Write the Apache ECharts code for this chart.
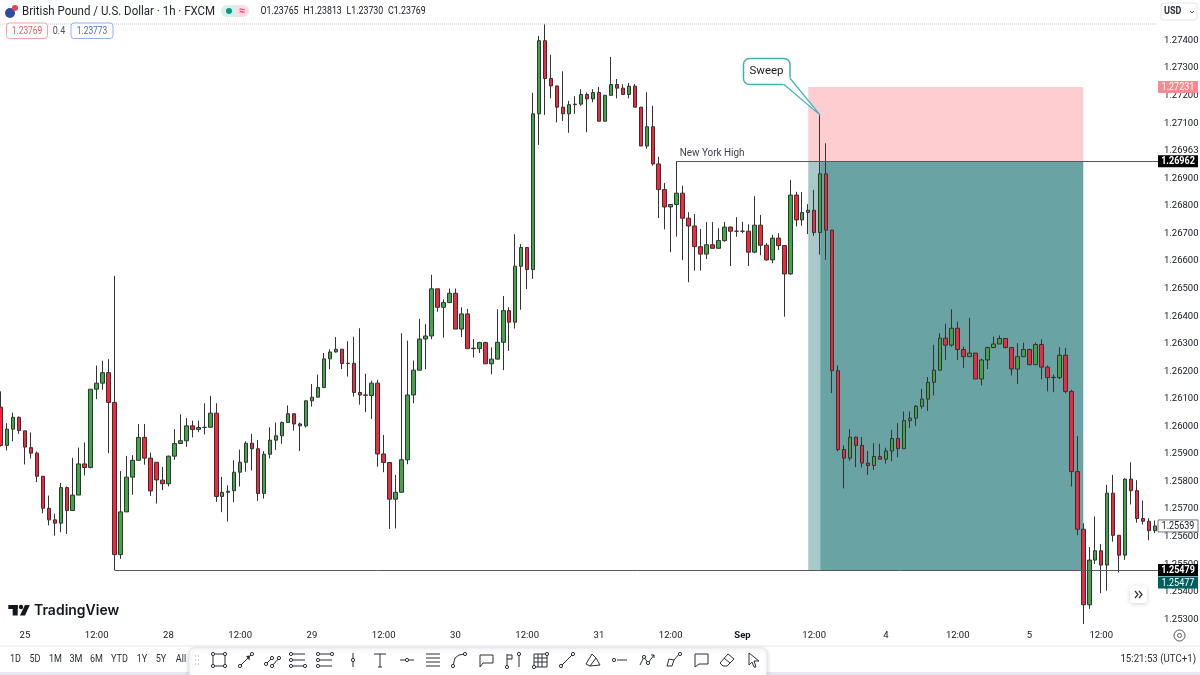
<!DOCTYPE html>
<html>
<head>
<meta charset="utf-8">
<style>html,body{margin:0;padding:0;background:#fff}#c{width:1200px;height:675px}</style>
<script src="https://cdn.jsdelivr.net/npm/echarts@6/dist/echarts.min.js"></script>
</head>
<body>
<div id="c"></div>
<script>
// ---------- data (GBP/USD, 1h bars) ----------
const opens = [1.26070,1.25931,1.25990,1.26033,1.25984,1.25923,1.25903,1.25819,1.25703,1.25661,
1.25649,1.25778,1.25695,1.25751,1.25864,1.25851,1.26135,1.26157,1.26195,1.26087,
1.25535,1.25690,1.25816,1.25877,1.25960,1.25885,1.25870,1.25805,1.25792,1.25892,
1.25938,1.25948,1.26002,1.25989,1.25996,1.25997,1.26048,1.25746,1.25761,1.25767,
1.25834,1.25870,1.25939,1.25919,1.25757,1.25899,1.25950,1.25966,1.26014,1.26046,
1.26009,1.26002,1.26093,1.26106,1.26141,1.26245,1.26270,1.26280,1.26228,1.26229,
1.26123,1.26114,1.26112,1.26157,1.25900,1.25869,1.25736,1.25761,1.25879,1.26114,
1.26204,1.26317,1.26328,1.26499,1.26432,1.26449,1.26483,1.26353,1.26408,1.26282,
1.26282,1.26304,1.26227,1.26244,1.26305,1.26420,1.26378,1.26581,1.26649,1.26569,
1.27134,1.27399,1.27262,1.27235,1.27158,1.27134,1.27167,1.27169,1.27204,1.27188,
1.27211,1.27107,1.27201,1.27240,1.27227,1.27204,1.27234,1.27158,1.27017,1.27087,
1.26952,1.26859,1.26796,1.26805,1.26846,1.26755,1.26727,1.26652,1.26625,1.26659,
1.26646,1.26674,1.26723,1.26708,1.26708,1.26708,1.26632,1.26730,1.26657,1.26604,
1.26683,1.26656,1.26553,1.26839,1.26749,1.26776,1.26784,1.26703,1.26916,1.26712,
1.26202,1.25916,1.25885,1.25961,1.25931,1.25867,1.25858,1.25891,1.25881,1.25911,
1.25956,1.25919,1.26021,1.26030,1.26073,1.26099,1.26160,1.26204,1.26320,1.26295,
1.26356,1.26279,1.26253,1.26266,1.26172,1.26241,1.26286,1.26299,1.26319,1.26286,
1.26208,1.26253,1.26279,1.26224,1.26297,1.26215,1.26177,1.26177,1.26258,1.26127,
1.25836,1.25627,1.25353,1.25515,1.25549,1.25497,1.25758,1.25605,1.25533,1.25809,
1.25767,1.25666,1.25656,1.25622];
const highs = [1.26127,1.26012,1.26050,1.26036,1.25984,1.25978,1.25909,1.25819,1.25749,1.25683,
1.25795,1.25782,1.25886,1.25923,1.25942,1.26135,1.26221,1.26238,1.26244,1.26546,
1.25838,1.25893,1.25896,1.26009,1.26009,1.25905,1.25870,1.25853,1.25894,1.25990,
1.26044,1.26030,1.26021,1.26021,1.26084,1.26110,1.26084,1.25817,1.25786,1.25877,
1.25916,1.25946,1.25973,1.25951,1.25910,1.25997,1.26014,1.26018,1.26076,1.26046,
1.26014,1.26093,1.26154,1.26188,1.26266,1.26280,1.26324,1.26280,1.26309,1.26325,
1.26356,1.26191,1.26166,1.26169,1.25969,1.25869,1.25824,1.26338,1.26311,1.26239,
1.26390,1.26371,1.26550,1.26499,1.26461,1.26500,1.26500,1.26432,1.26426,1.26317,
1.26307,1.26307,1.26287,1.26425,1.26473,1.26432,1.26697,1.26661,1.26649,1.27210,
1.27416,1.27460,1.27348,1.27235,1.27288,1.27181,1.27198,1.27223,1.27211,1.27223,
1.27231,1.27201,1.27340,1.27260,1.27241,1.27246,1.27242,1.27158,1.27212,1.27163,
1.26978,1.26883,1.26805,1.26962,1.26873,1.26777,1.26770,1.26716,1.26741,1.26741,
1.26719,1.26742,1.26725,1.26759,1.26742,1.26733,1.26835,1.26767,1.26665,1.26695,
1.26701,1.26656,1.26894,1.26851,1.26850,1.26806,1.26858,1.27129,1.27027,1.26712,
1.26221,1.25931,1.25990,1.25963,1.25961,1.25911,1.25939,1.25937,1.25923,1.25987,
1.26012,1.26054,1.26054,1.26078,1.26136,1.26179,1.26296,1.26338,1.26372,1.26425,
1.26380,1.26289,1.26393,1.26266,1.26245,1.26289,1.26326,1.26330,1.26319,1.26286,
1.26302,1.26304,1.26282,1.26304,1.26316,1.26221,1.26188,1.26287,1.26285,1.26133,
1.25966,1.25649,1.25562,1.25673,1.25573,1.25788,1.25824,1.25605,1.25812,1.25870,
1.25805,1.25731,1.25667,1.25659];
const lows = [1.25927,1.25913,1.25946,1.25973,1.25862,1.25884,1.25798,1.25685,1.25641,1.25604,
1.25616,1.25610,1.25695,1.25751,1.25822,1.25848,1.26099,1.26133,1.25903,1.25479,
1.25520,1.25690,1.25752,1.25875,1.25861,1.25748,1.25720,1.25769,1.25782,1.25879,
1.25938,1.25926,1.25960,1.25979,1.25971,1.25997,1.25726,1.25689,1.25655,1.25725,
1.25782,1.25836,1.25840,1.25730,1.25738,1.25884,1.25915,1.25937,1.26014,1.25985,
1.25911,1.25996,1.26072,1.26106,1.26139,1.26208,1.26268,1.26208,1.26181,1.26108,
1.26079,1.26052,1.26027,1.25854,1.25834,1.25628,1.25630,1.25761,1.25863,1.26084,
1.26204,1.26208,1.26316,1.26416,1.26322,1.26449,1.26353,1.26324,1.26282,1.26250,
1.26266,1.26227,1.26189,1.26244,1.26204,1.26274,1.26355,1.26423,1.26498,1.26535,
1.27021,1.27130,1.27190,1.27103,1.27108,1.27065,1.27134,1.27163,1.27067,1.27176,
1.27107,1.27107,1.27200,1.27190,1.27204,1.27190,1.27158,1.27017,1.27007,1.26946,
1.26756,1.26715,1.26632,1.26688,1.26604,1.26523,1.26565,1.26565,1.26607,1.26646,
1.26646,1.26670,1.26582,1.26688,1.26701,1.26582,1.26628,1.26621,1.26601,1.26592,
1.26640,1.26398,1.26550,1.26725,1.26728,1.26698,1.26691,1.26623,1.26604,1.26121,
1.25909,1.25775,1.25876,1.25852,1.25851,1.25824,1.25842,1.25881,1.25865,1.25874,
1.25888,1.25919,1.25995,1.26002,1.26064,1.26056,1.26112,1.26204,1.26241,1.26289,
1.26241,1.26212,1.26253,1.26172,1.26149,1.26208,1.26284,1.26299,1.26284,1.26185,
1.26154,1.26253,1.26222,1.26222,1.26171,1.26127,1.26124,1.26171,1.26120,1.25782,
1.25605,1.25283,1.25338,1.25501,1.25395,1.25404,1.25582,1.25470,1.25516,1.25717,
1.25651,1.25644,1.25587,1.25613];
const closes = [1.25931,1.25990,1.26033,1.25985,1.25925,1.25903,1.25819,1.25703,1.25661,1.25649,
1.25778,1.25695,1.25751,1.25864,1.25851,1.26135,1.26157,1.26195,1.26087,1.25535,
1.25690,1.25816,1.25877,1.25960,1.25885,1.25766,1.25806,1.25792,1.25892,1.25938,
1.25948,1.26002,1.25989,1.25996,1.25997,1.26048,1.25746,1.25761,1.25765,1.25834,
1.25870,1.25939,1.25919,1.25757,1.25899,1.25950,1.25966,1.26014,1.26046,1.26009,
1.26002,1.26093,1.26106,1.26141,1.26245,1.26270,1.26280,1.26228,1.26229,1.26123,
1.26114,1.26113,1.26157,1.25900,1.25869,1.25736,1.25761,1.25879,1.26114,1.26204,
1.26317,1.26328,1.26499,1.26432,1.26449,1.26483,1.26353,1.26408,1.26282,1.26284,
1.26304,1.26227,1.26244,1.26305,1.26420,1.26378,1.26581,1.26649,1.26569,1.27134,
1.27399,1.27262,1.27235,1.27158,1.27134,1.27167,1.27169,1.27204,1.27188,1.27211,
1.27107,1.27201,1.27240,1.27227,1.27204,1.27234,1.27158,1.27017,1.27087,1.26952,
1.26859,1.26796,1.26805,1.26846,1.26755,1.26727,1.26652,1.26625,1.26659,1.26646,
1.26674,1.26723,1.26708,1.26708,1.26708,1.26632,1.26730,1.26657,1.26604,1.26683,
1.26656,1.26553,1.26839,1.26749,1.26776,1.26784,1.26703,1.26916,1.26712,1.26202,
1.25916,1.25885,1.25961,1.25931,1.25867,1.25858,1.25891,1.25881,1.25911,1.25956,
1.25919,1.26021,1.26030,1.26073,1.26099,1.26160,1.26204,1.26320,1.26295,1.26356,
1.26279,1.26253,1.26266,1.26172,1.26241,1.26286,1.26299,1.26319,1.26286,1.26208,
1.26253,1.26279,1.26224,1.26297,1.26215,1.26177,1.26178,1.26258,1.26127,1.25836,
1.25627,1.25353,1.25515,1.25549,1.25497,1.25758,1.25605,1.25533,1.25809,1.25767,
1.25666,1.25656,1.25622,1.25639];
const tickBars = [4,16,28,40,52,64,76,88,100,112,124,136,148,160,172,184];
const tickLabels = ['25','12:00','28','12:00','29','12:00','30','12:00','31','12:00','Sep','12:00','4','12:00','5','12:00'];
const priceMin = 1.252, priceMax = 1.275, priceStep = 0.001;
const hiddenTick = 1.27;
const nyHighBar = 113, nyHighPrice = 1.26962;
const lowLineBar = 19, lowLinePrice = 1.25479;
const stopPrice = 1.27231, targetPrice = 1.25477, lastPrice = 1.25639;
const zoneStartBar = 135, zoneEntryBar = 137, zoneEndBar = 181, guideStartPrice = 1.26883;
const sweepBar = 137, sweepHigh = 1.27129;

// ---------- chart ----------
const bars = opens.map((o,i)=>[o,closes[i],lows[i],highs[i]]);
const categories = new Array(bars.length+1).fill('');
tickBars.forEach((b,i)=>{categories[b]=tickLabels[i];});
const lastCat = bars.length;
const FONT = "Roboto,sans-serif";
const INK='#131722', UP='#3ea748', DOWN='#f5263d', EDGE='#333333';

const chart = echarts.init(document.getElementById('c'),null,{renderer:'canvas'});
chart.setOption({
  animation:false,
  backgroundColor:'#ffffff',
  grid:{left:-2,width:1166,top:12.86,height:634.11,containLabel:false,outerBoundsMode:'none'},
  xAxis:{type:'category',data:categories,boundaryGap:true,
    axisLine:{show:false},axisTick:{show:false},splitLine:{show:false},
    axisLabel:{show:true,interval:0,inside:true,margin:6,color:INK,fontFamily:FONT,fontSize:9.5,hideOverlap:false,
      formatter:v=>v==='Sep'?'{b|Sep}':v,rich:{b:{fontWeight:'bold',color:INK,fontFamily:FONT,fontSize:9.5}}}},
  yAxis:{type:'value',position:'right',min:priceMin,max:priceMax,interval:priceStep,scale:true,
    axisLine:{show:false},axisTick:{show:false},splitLine:{show:false},
    axisLabel:{margin:0,color:INK,fontFamily:FONT,fontSize:9.5,showMinLabel:false,showMaxLabel:false,
      formatter:v=>Math.abs(v-hiddenTick)<1e-6?'':v.toFixed(5)}},
  series:[
    {type:'line',data:[],silent:true,z:1,
     markArea:{silent:true,z:1,data:[
       [{coord:[zoneStartBar,stopPrice],itemStyle:{color:'#fecdd0'}},{coord:[zoneEndBar,nyHighPrice]}],
       [{coord:[zoneStartBar,nyHighPrice],itemStyle:{color:'#a7c9c8'}},{coord:[zoneEntryBar,lowLinePrice]}],
       [{coord:[zoneEntryBar,nyHighPrice],itemStyle:{color:'#69a3a4'}},{coord:[zoneEndBar,lowLinePrice]}]
     ]},
     markLine:{silent:true,z:1,symbol:'none',label:{show:false},lineStyle:{color:'#70a8a9',width:1,type:[3,3]},
       data:[[{coord:[zoneEntryBar+2,guideStartPrice]},{coord:[zoneEndBar,lowLinePrice]}]]}
    },
    {type:'candlestick',data:bars,barWidth:4,z:3,
     itemStyle:{color:UP,color0:DOWN,borderColor:EDGE,borderColor0:EDGE,borderColorDoji:EDGE,borderWidth:1},
     markLine:{silent:true,z:5,symbol:'none',label:{show:false},animation:false,
       lineStyle:{color:'#555a5e',width:1,type:'solid'},
       data:[
         [{coord:[nyHighBar,nyHighPrice]},{coord:[lastCat,nyHighPrice]}],
         [{coord:[lowLineBar,lowLinePrice]},{coord:[lastCat,lowLinePrice]}]
       ]}
    }
  ]
});

// ---------- chrome and annotations ----------
const Y = p => chart.convertToPixel({yAxisIndex:0},p);
const X = b => chart.convertToPixel({xAxisIndex:0},b);
const Z = 50;
const txt=(x,y,text,o={})=>({type:'text',x,y,z:o.z||Z,scaleX:o.sx||1,style:{text,fill:o.fill||INK,textAlign:o.align||'left',textVerticalAlign:'middle',
  font:`${o.weight||'normal'} ${o.size||10.5}px ${o.family||FONT}`}});
const rect=(x,y,w,h,o={})=>({type:'rect',z:o.z||Z,shape:{x,y,width:w,height:h,r:o.r||0},
  style:{fill:o.fill||'#fff',stroke:o.stroke||null,lineWidth:o.lw||1,shadowBlur:o.blur||0,shadowColor:o.sc||'rgba(0,0,0,.18)',shadowOffsetY:o.blur?1:0}});
const line=(pts,o={})=>({type:'polyline',z:o.z||Z+2,shape:{points:pts},style:{fill:null,stroke:o.stroke||'#2a2e39',lineWidth:o.lw||1,lineDash:o.dash||null}});
const poly=(pts,o={})=>({type:'polygon',z:o.z||Z+2,shape:{points:pts},style:{fill:o.fill||'#2a2e39',stroke:o.stroke||null,lineWidth:o.lw||1}});
const circ=(x,y,r,o={})=>({type:'circle',z:o.z||Z+3,shape:{cx:x,cy:y,r},style:{fill:o.fill||'#fff',stroke:o.stroke===undefined?'#2a2e39':o.stroke,lineWidth:o.lw||1}});
const tag=(price,cy,bg,fg,stroke,label,weight)=>[
  rect(1158,cy-6,40,12,{fill:bg,stroke,z:Z+4}),
  txt(1178,cy+0.5,label,{fill:fg,align:'center',z:Z+5,weight:weight||'normal',size:10.5,sx:.86})];

const g=[];
// header
g.push(line([[0,24],[1157,24]],{stroke:'#c9cbd0',dash:[1,1],z:Z}));
g.push(circ(10,13,5,{fill:'#2f4a9a',stroke:null}),circ(15,8,3,{fill:'#e8414f',stroke:null}));
g.push(line([[6,13],[14,13]],{stroke:'#f3f3f3'}),line([[10,9],[10,17]],{stroke:'#e8414f',lw:1.2}));
g.push(txt(22,11.5,'British Pound / U.S. Dollar · 1h · FXCM',{size:12.5,fill:'#1d2129',sx:.92}));
g.push(rect(221,5,15,12,{fill:'#d7f0ea',r:[6,0,0,6]}),rect(236,5,13,12,{fill:'#fbdde6',r:[0,6,6,0]}));
g.push(circ(229,11,3,{fill:'#089981',stroke:null}));
g.push(txt(242,11,'≈',{fill:'#f23868',align:'center',size:11,weight:'bold'}));
g.push(txt(260.5,11.5,'O1.23765',{size:11,sx:.8}),txt(303.5,11.5,'H1.23813',{size:11,sx:.8}),txt(346.5,11.5,'L1.23730',{size:11,sx:.8}),txt(388,11.5,'C1.23769',{size:11,sx:.8}));
g.push(rect(6.5,23,41,15.5,{fill:'#fff',stroke:'#f9a0a6',r:3}),txt(27,31,'1.23769',{align:'center',fill:'#f2545f',size:10.5,sx:.8}));
g.push(txt(59,31,'0.4',{align:'center',fill:'#50535e',size:10,sx:.9}));
g.push(rect(71,23,42,15.5,{fill:'#fff',stroke:'#90b0f8',r:3}),txt(92,31,'1.23773',{align:'center',fill:'#3d68e8',size:10.5,sx:.8}));
// currency button
g.push(rect(1161,3,36,17,{fill:'#fff',stroke:'#e3e5ea',r:3}),txt(1164,11.5,'USD',{size:10,weight:'bold',fill:'#2a2e39',sx:.9}));
g.push(line([[1190,11],[1192,13],[1194,11]],{stroke:'#50535e'}));
// New York High caption
g.push(txt(X(nyHighBar)+3,Y(nyHighPrice)-8,'New York High',{size:11,fill:'#3a3e46',sx:.9}));
// callout
const tipX=X(sweepBar), tipY=Y(sweepHigh), CO='#3fb0bd';
g.push(rect(743.5,58.5,46.5,26,{fill:'#fff',stroke:CO,lw:1.5,r:6,z:Z+6}));
g.push(poly([[783,84],[789.5,77],[tipX,tipY]],{fill:'#fff',z:Z+7}));
g.push(line([[784,84.5],[tipX,tipY],[789.8,78]],{stroke:CO,lw:1.2,z:Z+8}));
g.push(txt(766.5,71,'Sweep',{align:'center',size:11.5,fill:'#1a1a1a',z:Z+9}));
// price tags, built from the price scale
g.push(...tag(stopPrice,Y(stopPrice),'#f98a90','#fff',null,'1.27231'));
g.push(txt(1164,Y(nyHighPrice)-11,'1.26963',{z:Z+3,size:9.5}));
g.push(...tag(nyHighPrice,Y(nyHighPrice),'#000','#fff',null,'1.26962','bold'));
g.push(...tag(lastPrice,Y(lastPrice),'#fff',INK,'#70747c','1.25639'));
g.push(...tag(lowLinePrice,Y(lowLinePrice),'#000','#fff',null,'1.25479','bold'));
g.push(...tag(targetPrice,Y(targetPrice)+12,'#00605f','#fff',null,'1.25477'));
// logo
g.push(rect(8.3,605,9.5,4,{fill:'#131722'}),rect(12.7,605,5,10.5,{fill:'#131722'}),circ(21,607,2.2,{fill:'#131722',stroke:null}));
g.push(poly([[25,605],[29.8,605],[25,615.5],[20,615.5]],{fill:'#131722'}));
g.push(txt(34,611,'TradingView',{family:"Inter,Roboto,sans-serif",size:14.5,weight:600,fill:'#131722',sx:.965}));
// scroll button
g.push(rect(1130,586,17,17,{fill:'#fff',r:3,blur:5}));
g.push(line([[1135,591],[1138,594.5],[1135,598]],{lw:1.2}),line([[1139,591],[1142,594.5],[1139,598]],{lw:1.2}));
// settings
g.push(circ(1179.5,635.5,5.5,{fill:'#fff',stroke:'#50535e'}),circ(1179.5,635.5,2,{fill:'#fff',stroke:'#50535e'}));
// bottom band
g.push(line([[0,646],[1200,646]],{stroke:'#e8ebf0',z:Z}));
g.push(rect(0,672,1200,3,{fill:'#e4e7ef'}));
const ranges=[['1D',15.5],['5D',35],['1M',55.5],['3M',76],['6M',96.5],['YTD',119.5],['1Y',142],['5Y',161],['All',181]];
ranges.forEach(r=>g.push(txt(r[1],659.5,r[0],{align:'center',size:10.5,fill:'#2a2e39',sx:.86})));
g.push(txt(1196,659.5,'15:21:53 (UTC+1)',{align:'right',size:11,fill:'#2a2e39',sx:.88}));
// toolbar
g.push(rect(189,648,578,30,{fill:'#fff',stroke:'#e6e8ee',r:6,blur:4,z:Z+1}));
[[195.5,656],[198.5,656],[195.5,660],[198.5,660],[195.5,664],[198.5,664]].forEach(d=>g.push(circ(d[0],d[1],.7,{fill:'#b2b5be',stroke:null})));
const cy=660;
const icon=(cx,lines,dots)=>{
  lines.forEach(l=>g.push(line(l.map(p=>[cx+p[0],cy+p[1]]))));
  (dots||[]).forEach(d=>g.push(circ(cx+d[0],cy+d[1],1.6)));
};
icon(219,[[[-6,-6],[6,-6],[6,6],[-6,6],[-6,-6]]],[[-6,-6],[6,-6],[6,6],[-6,6]]);
icon(246,[[[-6,6],[6,-6]]],[[-6,6],[6,-6]]); g.push(poly([[246,656],[250,655.5],[249.5,660.5]],{}));
icon(273,[[[-7,4],[-1,-2]],[[-1,6],[6,-2]]],[[-7,4],[-1,-2],[-1,6],[6,-2]]);
icon(298,[[[-6,-6],[7,-6]],[[-6,0],[7,0]],[[-6,6],[7,6]]],[[-7,-6],[-7,0],[-7,6],[7,6]]);
icon(325,[[[-6,-6],[7,-6]],[[-6,0],[7,0]],[[-6,6],[7,6]]],[[-7,-6],[7,-6],[-7,0],[-7,6]]);
icon(353,[[[0,-7],[0,7]]],[[0,0]]);
icon(380,[[[-6,-6],[6,-6]],[[0,-6],[0,7]],[[-2,7],[2,7]]]);
icon(407,[[[-7,0],[7,0]]],[[0,0]]);
icon(433,[[[-7,-6],[7,-6]],[[-7,-2],[7,-2]],[[-7,2],[7,2]],[[-7,6],[7,6]]]);
icon(459,[[[-6,6],[-4,-2],[0,-5],[6,-6]]],[[-6,6],[6,-6]]);
icon(487,[[[-7,-5],[6,-5],[6,3],[-4,3],[-7,7],[-7,-5]]]);
icon(513,[[[-6,-6],[-6,7]],[[-6,-5],[-1,-5],[-1,-1],[-6,-1]],[[6,-4],[6,7]]],[[6,-6],[-6,7]]);
icon(540,[[[-6,-6],[7,-6],[7,7],[-6,7],[-6,-6]],[[-2,-6],[-2,7]],[[2,-6],[2,7]],[[-6,-2],[7,-2]],[[-6,2],[7,2]]],[[7,-6],[-6,7]]);
icon(567,[[[-6,6],[6,-6]]],[[-6,6],[6,-6]]);
icon(593,[[[-7,4],[-1,-6],[3,-2],[-3,6],[-7,4]],[[3,-2],[7,5],[-3,6]]]);
icon(620,[[[-3,0],[7,0]]],[[-6,0]]);
icon(647,[[[-7,5],[-3,-3],[1,3],[7,-5]],[[4,-5],[7,-5],[7,-2]]],[[-3,-3],[1,3]]);
icon(674,[[[-7,6],[-5,-1],[0,0],[-2,6],[-7,6]],[[0,0],[6,-7]]],[[6,-6]]);
icon(701,[[[-6,-6],[7,-6],[7,4],[-2,4],[-6,7],[-6,-6]]]);
icon(727,[[[-7,3],[1,-6],[7,-1],[0,6],[-4,6],[-7,3]],[[-3,-2],[3,3]]]);
icon(754,[[[-5,-7],[5,1],[0,1],[2,7],[0,7],[-2,2],[-5,5],[-5,-7]]]);
chart.setOption({graphic:{elements:g}});
</script>
</body>
</html>
